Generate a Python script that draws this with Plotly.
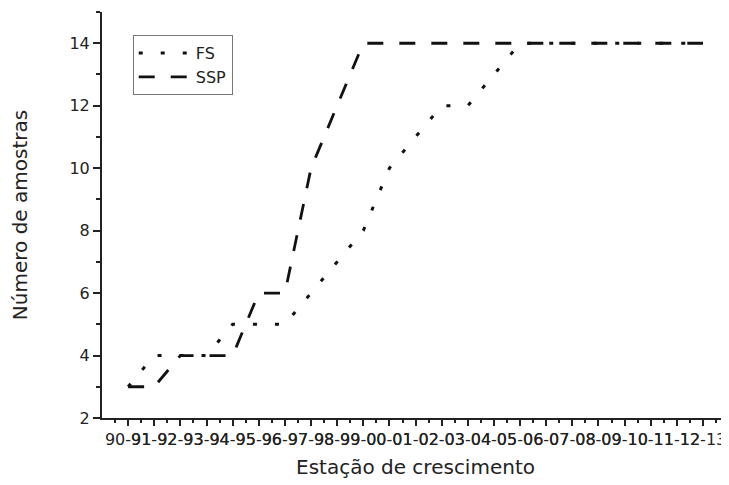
import plotly.graph_objects as go

# ---- data ----
seasons = ["90-91", "91-92", "92-93", "93-94", "94-95", "95-96", "96-97", "97-98",
           "98-99", "99-00", "00-01", "01-02", "02-03", "03-04", "04-05", "05-06",
           "06-07", "07-08", "08-09", "09-10", "10-11", "11-12", "12-13"]
fs_values = [3, 4, 4, 4, 5, 5, 5, 6, 7, 8, 10, 11, 12, 12, 13, 14, 14, 14, 14, 14, 14, 14, 14]
ssp_values = [3, 3, 4, 4, 4, 6, 6, 10, 12, 14, 14, 14, 14, 14, 14, 14, 14, 14, 14, 14, 14, 14, 14]
y_tick_values = [2, 4, 6, 8, 10, 12, 14]

x_pos = list(range(len(seasons)))

fig = go.Figure()
fig.add_trace(go.Scatter(
    x=x_pos, y=fs_values, mode="lines", name="FS",
    line=dict(color="#111111", width=3, dash="4px,18px"),
))
fig.add_trace(go.Scatter(
    x=x_pos, y=ssp_values, mode="lines", name="SSP",
    line=dict(color="#111111", width=2.8, dash="16px,16px"),
))

# the page body has an 8px default margin, so the figure is sized to fill the
# remaining 721x477 area of the 729x485 window
fig.update_layout(
    width=721, height=477,
    margin=dict(l=94, r=0, t=4, b=67, autoexpand=False),
    plot_bgcolor="white", paper_bgcolor="white",
    font=dict(family="DejaVu Sans", color="#222222"),
    showlegend=True,
    legend=dict(
        x=0.049, y=0.943, xanchor="left", yanchor="top",
        bordercolor="#777777", borderwidth=1, bgcolor="white",
        font=dict(size=16, color="#222222"),
        itemwidth=52, tracegroupgap=0,
    ),
)

fig.update_xaxes(
    automargin=False,
    range=[-1, 22.995],
    tickmode="array", tickvals=x_pos, ticktext=seasons, tickangle=0,
    ticks="outside", ticklen=6, tickwidth=1.5, tickcolor="#222222",
    showline=True, linecolor="#222222", linewidth=2,
    showgrid=False, zeroline=False,
    tickfont=dict(size=16, color="#222222"),
    minor=dict(ticks="outside", ticklen=3, tickwidth=1.5, tickcolor="#222222",
               tick0=-0.5, dtick=1, showgrid=False),
    title=dict(text="Estação de crescimento", font=dict(size=20, color="#222222"), standoff=12),
)

fig.update_yaxes(
    automargin=False,
    range=[2, 15],
    tickmode="array", tickvals=y_tick_values,
    ticks="outside", ticklen=7, tickwidth=1.5, tickcolor="#222222",
    showline=True, linecolor="#222222", linewidth=2,
    showgrid=False, zeroline=False,
    tickfont=dict(size=16, color="#222222"),
    minor=dict(ticks="outside", ticklen=4, tickwidth=1.5, tickcolor="#222222",
               tick0=1, dtick=1, showgrid=False),
    title=dict(text="Número de amostras", font=dict(size=20, color="#222222"), standoff=36),
)

fig.write_html("out.html")
